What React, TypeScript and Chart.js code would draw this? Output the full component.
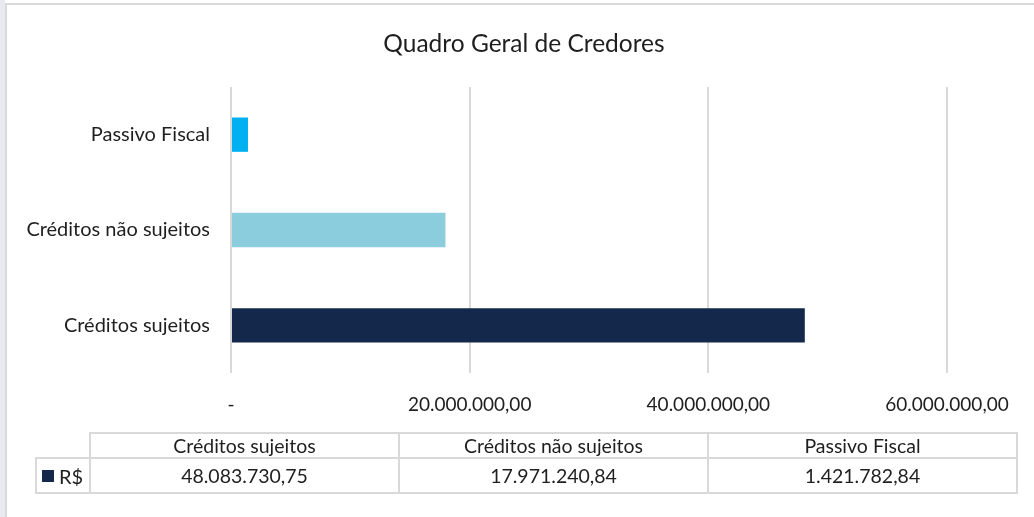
import React, { useEffect, useRef } from 'react';
import { Chart, registerables } from 'chart.js';

Chart.register(...registerables);

const chartTitle = 'Quadro Geral de Credores';
const categories = ['Créditos sujeitos', 'Créditos não sujeitos', 'Passivo Fiscal'];
const values = [48083730.75, 17971240.84, 1421782.84];
const barColors = ['#14284B', '#8BCDDC', '#00B0F0'];
const seriesName = 'R$';
const axisTicks = [0, 20000000, 40000000, 60000000];

const FONT = 'Lato, "Open Sans", sans-serif';
const TEXT = '#1f1f1f';
const GRID = '#D9D9D9';

function fmt(v: number): string {
  const [i, d] = v.toFixed(2).split('.');
  return i.replace(/\B(?=(\d{3})+(?!\d))/g, '.') + ',' + d;
}

export default function App() {
  const ref = useRef<HTMLCanvasElement>(null);

  useEffect(() => {
    if (!ref.current) return;
    const chart = new Chart(ref.current, {
      type: 'bar',
      data: {
        labels: categories,
        datasets: [
          {
            label: seriesName,
            data: values,
            backgroundColor: barColors,
            borderWidth: 0,
            categoryPercentage: 1,
            barPercentage: 0.36,
          },
        ],
      },
      options: {
        indexAxis: 'y',
        responsive: false,
        animation: false,
        layout: { padding: { left: 0, right: 87, top: 87, bottom: 0 } },
        plugins: {
          legend: { display: false },
          tooltip: { enabled: false },
          title: { display: false },
        },
        scales: {
          x: {
            min: axisTicks[0],
            max: axisTicks[axisTicks.length - 1],
            afterBuildTicks: (s: any) => {
              s.ticks = axisTicks.map((v) => ({ value: v }));
            },
            afterFit: (s: any) => {
              s.height = 144;
            },
            grid: { color: GRID, lineWidth: 2, drawTicks: false },
            border: { display: false },
            ticks: {
              padding: 20,
              color: TEXT,
              font: { family: FONT, size: 19 },
              maxRotation: 0,
              callback: (v: any) => (Number(v) === 0 ? '-' : fmt(Number(v))),
            },
          },
          y: {
            reverse: true,
            afterFit: (s: any) => {
              s.width = 231;
            },
            grid: { display: false },
            border: { display: false },
            ticks: {
              padding: 13,
              color: TEXT,
              font: { family: FONT, size: 20 },
            },
          },
        },
      },
    });
    return () => chart.destroy();
  }, []);

  const colX = [89, 398, 707, 1016];
  const lineStyle = (l: number, t: number, w: number, h: number): React.CSSProperties => ({
    position: 'absolute',
    left: l,
    top: t,
    width: w,
    height: h,
    background: GRID,
  });
  const cellText = (l: number, t: number, w: number, h: number, s: string, key: string) => (
    <div
      key={key}
      style={{
        position: 'absolute',
        left: l,
        top: t,
        width: w,
        height: h,
        display: 'flex',
        alignItems: 'center',
        justifyContent: 'center',
        fontFamily: FONT,
        fontSize: 19.5,
        color: TEXT,
        whiteSpace: 'nowrap',
      }}
    >
      {s}
    </div>
  );

  return (
    <div
      style={{
        position: 'fixed',
        left: 0,
        top: 0,
        width: 1034,
        height: 517,
        background: '#fff',
        overflow: 'hidden',
      }}
    >
      <div style={{ position: 'absolute', left: 0, top: 0, width: 5, height: 517, background: '#E9E9F2' }} />
      <div
        style={{
          position: 'absolute',
          left: 5,
          top: 3,
          width: 1040,
          height: 530,
          borderTop: `2px solid ${GRID}`,
          borderLeft: `2px solid ${GRID}`,
          background: '#fff',
        }}
      />
      <canvas ref={ref} width={1034} height={517} style={{ position: 'absolute', left: 0, top: 0 }} />
      <div
        style={{
          position: 'absolute',
          left: 0,
          top: 24,
          width: 1048,
          height: 36,
          display: 'flex',
          alignItems: 'center',
          justifyContent: 'center',
          fontFamily: FONT,
          fontSize: 24.5,
          color: TEXT,
          whiteSpace: 'nowrap',
        }}
      >
        {chartTitle}
      </div>
      {/* data table */}
      <div style={lineStyle(89, 432, 1016 - 89 + 2, 2)} />
      <div style={lineStyle(35, 457, 1016 - 35 + 2, 2)} />
      <div style={lineStyle(35, 492, 1016 - 35 + 2, 2)} />
      <div style={lineStyle(35, 457, 2, 37)} />
      {colX.map((x, i) => (
        <div key={'v' + i} style={lineStyle(x, 432, 2, 62)} />
      ))}
      {categories.map((c, i) => cellText(colX[i] + 2, 434, colX[i + 1] - colX[i] - 2, 23, c, 'h' + i))}
      {values.map((v, i) => cellText(colX[i] + 2, 459, colX[i + 1] - colX[i] - 2, 33, fmt(v), 'd' + i))}
      <div style={{ position: 'absolute', left: 42, top: 470, width: 12, height: 12, background: barColors[0] }} />
      <div
        style={{
          position: 'absolute',
          left: 59,
          top: 459,
          height: 33,
          display: 'flex',
          alignItems: 'center',
          fontFamily: FONT,
          fontSize: 20,
          color: TEXT,
        }}
      >
        {seriesName}
      </div>
    </div>
  );
}
